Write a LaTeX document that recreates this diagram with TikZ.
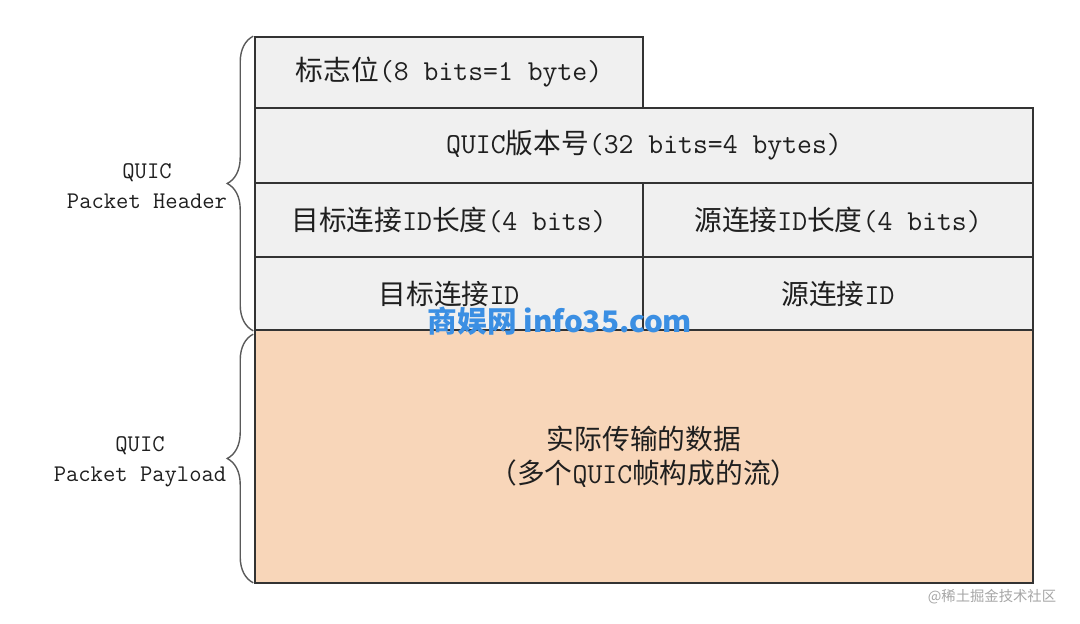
\documentclass[tikz,border=0pt]{standalone}
\usepackage{fontspec}
\newfontfamily\cjk[Scale=0.96]{Noto Sans CJK SC}
\newcommand{\zh}[1]{{\cjk #1}}
\usetikzlibrary{decorations.pathreplacing}
\definecolor{hdrfill}{HTML}{F0F0F0}
\definecolor{payfill}{HTML}{F8D6B9}
\definecolor{edgecol}{HTML}{333333}
\definecolor{bracecol}{HTML}{5A5A5A}
\definecolor{wmblue}{HTML}{3B8FE3}
\begin{document}
\begin{tikzpicture}[x=1bp,y=1bp,
  field/.style={draw=edgecol,line width=1.6bp,fill=hdrfill,inner sep=0pt,text=black!88,
    font=\ttfamily\fontsize{29}{34}\selectfont},
  payfield/.style={field,fill=payfill,align=center},
  lbl/.style={align=center,inner sep=0pt,text=black!88,font=\ttfamily\fontsize{24}{30}\selectfont},
  hbrace/.style={draw=bracecol,line width=1.4bp,decorate,decoration={brace,amplitude=26bp}},
]
\useasboundingbox (0,0) rectangle (1080bp,624bp);
%%
\node (flags) at (449.0bp,551.5bp) [field,minimum width=388bp,minimum height=71bp] {\zh{标志位}(8 bits=1 byte)};
  \node (version) at (644.0bp,478.5bp) [field,minimum width=778bp,minimum height=75bp] {QUIC\zh{版本号}(32 bits=4 bytes)};
  \node (dcidlen) at (449.0bp,404.0bp) [field,minimum width=388bp,minimum height=74bp] {\zh{目标连接}ID\zh{长度}(4 bits)};
  \node (scidlen) at (838.0bp,404.0bp) [field,minimum width=390bp,minimum height=74bp] {\zh{源连接}ID\zh{长度}(4 bits)};
  \node (dcid) at (449.0bp,330.5bp) [field,minimum width=388bp,minimum height=73bp] {\zh{目标连接}ID};
  \node (scid) at (838.0bp,330.5bp) [field,minimum width=390bp,minimum height=73bp] {\zh{源连接}ID};
  \node (payload) at (644.0bp,167.5bp) [payfield,minimum width=778bp,minimum height=253bp] {\zh{实际传输的数据}\\\zh{（多个}QUIC\zh{帧构成的流）}};
%
\node (hdrlbl) at (147.0bp,437.5bp) [lbl] {QUIC\\Packet Header};
  \node (paylbl) at (140.0bp,162.5bp) [lbl] {QUIC\\Packet Payload};
  \draw [hbrace] ([xshift=-1bp]dcid.south west) -- ([xshift=-1bp]flags.north west);
  \draw [hbrace] ([xshift=-1bp,yshift=1bp]payload.south west) -- ([xshift=-1bp,yshift=-5bp]payload.north west);
%
\node (wmsite) at (560.0bp,303.0bp) [text=wmblue,font=\cjk\bfseries\fontsize{31}{31}\selectfont] {商娱网 info35.com};
  \node (wmjj) at (992.0bp,27.0bp) [text=black!35,font=\cjk\fontsize{15}{15}\selectfont] {@稀土掘金技术社区};
%
\end{tikzpicture}
\end{document}
